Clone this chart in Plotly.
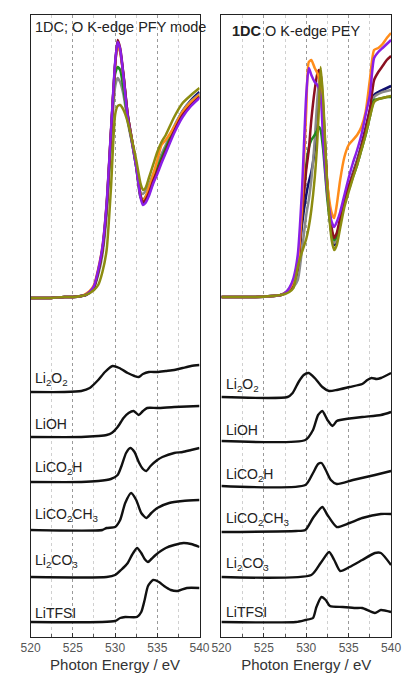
import plotly.graph_objects as go

# ---------------- data (arbitrary intensity units, offsets as plotted) ----------------
E_PFY = [520, 522, 524, 525, 526, 526.5, 527, 527.5, 528, 528.5, 529, 529.5, 530, 530.3, 530.6,
         531, 531.5, 532, 532.5, 533, 533.3, 533.6, 534, 534.5, 535, 535.5, 536, 537, 538, 539, 540]
PFY_maroon = [339, 339, 340, 340, 341, 342, 345, 350, 365, 387, 430, 502, 572, 597, 589,
              562, 522, 497, 472, 442, 435, 437, 444, 456, 466, 476, 486, 506, 522, 532, 540]
PFY_purple = [339, 339, 340, 340, 341, 342, 345, 351, 367, 390, 434, 505, 574, 595, 588,
              560, 520, 495, 470, 440, 432, 434, 441, 453, 463, 474, 484, 504, 520, 531, 539]
PFY_navy = [339, 339, 340, 340, 341, 342, 345, 350, 366, 388, 432, 503, 572, 593, 586,
            561, 522, 497, 472, 442, 434, 436, 443, 455, 466, 477, 488, 509, 526, 537, 545]
PFY_orange = [339, 339, 340, 340, 341, 343, 346, 352, 368, 390, 433, 503, 571, 592, 585,
              560, 521, 497, 472, 442, 436, 440, 449, 462, 477, 492, 497, 510, 525, 535, 542]
PFY_green = [339, 339, 340, 340, 341, 342, 345, 350, 365, 387, 429, 498, 563, 570, 567,
             548, 518, 495, 470, 440, 437, 440, 447, 459, 469, 479, 489, 508, 524, 534, 541]
PFY_gray = [339, 339, 340, 340, 341, 342, 344, 349, 362, 382, 422, 490, 550, 559, 555,
            542, 515, 494, 470, 445, 443, 446, 452, 463, 473, 483, 492, 511, 526, 536, 543]
PFY_olive = [339, 339, 340, 340, 341, 342, 344, 347, 352, 365, 387, 447, 522, 531, 532,
             527, 515, 497, 477, 454, 447, 449, 459, 472, 485, 495, 502, 520, 534, 542, 549]

E_PEY = [520, 522, 524, 526, 527, 527.5, 528, 528.5, 529, 529.5, 530, 530.3, 530.6, 531, 531.3,
         531.5, 531.7, 532, 532.5, 533, 533.3, 533.6, 534, 534.5, 535, 535.5, 536, 536.5, 537,
         537.5, 538, 538.5, 539, 539.5, 540]
PEY_purple = [340, 340, 340, 341, 342, 344, 349, 359, 382, 447, 542, 569, 562, 555, 552,
              549, 542, 497, 442, 415, 410, 415, 425, 442, 459, 474, 487, 502, 522,
              542, 579, 585, 589, 593, 597]
PEY_orange = [340, 340, 340, 341, 342, 344, 348, 356, 372, 432, 527, 575, 577, 569, 564,
              559, 549, 512, 452, 424, 419, 432, 457, 480, 492, 497, 502, 510, 525,
              557, 587, 589, 593, 599, 604]
PEY_maroon = [340, 340, 340, 341, 342, 344, 347, 354, 369, 422, 467, 487, 517, 547, 563,
              567, 562, 522, 452, 409, 399, 404, 419, 437, 450, 462, 475, 490, 507,
              527, 557, 565, 571, 577, 581]
PEY_navy = [340, 340, 340, 341, 342, 344, 347, 353, 367, 412, 442, 455, 465, 487, 515,
            542, 557, 527, 447, 402, 392, 397, 415, 435, 450, 464, 477, 492, 509,
            527, 542, 545, 547, 549, 551]
PEY_green = [340, 340, 340, 341, 342, 344, 348, 356, 375, 422, 472, 489, 497, 502, 507,
             510, 507, 487, 437, 405, 397, 401, 417, 434, 447, 460, 472, 487, 502,
             520, 537, 538, 539, 540, 540]
PEY_gray = [340, 340, 340, 341, 342, 344, 346, 350, 357, 387, 422, 437, 457, 497, 537,
            555, 565, 532, 447, 402, 394, 399, 416, 435, 449, 463, 476, 490, 506,
            524, 540, 543, 545, 546, 547]
PEY_olive = [340, 340, 340, 341, 342, 343, 345, 349, 370, 385, 398, 410, 427, 459, 495,
             530, 570, 537, 447, 397, 387, 392, 409, 430, 445, 459, 472, 487, 502,
             520, 535, 538, 539, 540, 541]

# reference compounds, PFY panel
L_Li2O2_E = [520, 524, 526, 527, 528, 528.8, 529.7, 530.5, 531.5, 532.3, 532.8, 533.3, 534, 535, 536, 537, 537.5, 538, 539, 540]
L_Li2O2_I = [245, 245, 246, 249, 257, 265, 271, 269, 264, 261, 260, 263, 265, 265, 266, 267, 268, 269, 271, 272]
L_LiOH_E = [520, 526, 528, 529, 529.6, 530.3, 531, 531.6, 532.2, 532.8, 533.3, 533.8, 535, 537, 540]
L_LiOH_I = [200, 200, 201, 202, 204, 210, 219, 224, 226, 222, 226, 229, 229, 230, 231]
L_LiCO2H_E = [520, 526, 528, 529.5, 530.3, 530.8, 531.3, 531.8, 532.3, 532.8, 533.3, 533.7, 534.2, 535, 535.6, 537, 538, 539, 540]
L_LiCO2H_I = [155, 155, 156, 158, 162, 172, 184, 189, 185, 175, 168, 166, 171, 177, 180, 184, 185, 187, 189]
L_LiOAc_E = [520, 528.5, 529, 530, 530.6, 531.2, 531.9, 532.5, 533.1, 533.7, 534.3, 535, 536.4, 538, 540]
L_LiOAc_I = [107, 107, 109, 110, 117, 134, 144, 137, 124, 119, 124, 129, 134, 136, 137]
L_Li2CO3_E = [520, 529, 530, 530.7, 531.5, 532, 532.6, 533.1, 533.5, 533.9, 534.3, 534.8, 536, 537, 538.1, 539, 540]
L_Li2CO3_I = [60, 60, 62, 67, 74, 82, 89, 84, 78, 75, 78, 82, 89, 92, 94, 93, 90]
L_LiTFSI_E = [520, 530, 530.6, 531.2, 532.6, 533.1, 533.5, 533.9, 534.5, 535.2, 535.8, 536.6, 537.4, 538.5, 540]
L_LiTFSI_I = [15, 16, 19, 20, 20, 25, 37, 51, 57, 55, 51, 47, 46, 49, 49]

# reference compounds, PEY panel
R_Li2O2_E = [520, 527.8, 528.4, 529.1, 529.7, 530.3, 531, 531.9, 532.7, 533.6, 535.1, 536.6, 537.2, 537.7, 538.3, 538.8, 540]
R_Li2O2_I = [240, 240, 244, 255, 262, 264, 259, 250, 246, 247, 250, 253, 257, 259, 258, 259, 264]
R_LiOH_E = [520, 529.9, 530.8, 531.4, 531.9, 532.5, 533.1, 533.6, 534, 536.6, 538.8, 540]
R_LiOH_I = [196, 197, 207, 222, 226, 217, 211, 216, 217, 220, 222, 225]
R_LiCO2H_E = [520, 529.9, 530.8, 531.4, 531.8, 532.3, 532.9, 533.6, 535.5, 538.1, 540]
R_LiCO2H_I = [151, 152, 164, 173, 174, 167, 157, 153, 157, 162, 166]
R_LiOAc_E = [520, 528.8, 529.9, 530.8, 531.9, 532.5, 533.6, 535.1, 536.6, 538.8, 540]
R_LiOAc_I = [105, 106, 107, 119, 130, 122, 110, 114, 119, 123, 123]
R_Li2CO3_E = [520, 530.6, 531.7, 532.7, 533.3, 534, 535.1, 536.6, 538.1, 538.8, 540]
R_Li2CO3_I = [60, 62, 74, 85, 77, 66, 70, 77, 84, 84, 72]
R_LiTFSI_E = [520, 528.8, 529.9, 530.8, 531.2, 531.8, 532.3, 532.8, 534.3, 535.8, 536.6, 538.1, 538.8, 540]
R_LiTFSI_I = [15, 15, 17, 19, 30, 40, 37, 31, 30, 29, 29, 24, 27, 25]

ref_names = ["Li<sub>2</sub>O<sub>2</sub>", "LiOH", "LiCO<sub>2</sub>H",
             "LiCO<sub>2</sub>CH<sub>3</sub>", "Li<sub>2</sub>CO<sub>3</sub>", "LiTFSI"]
ref_label_y_L = [258, 213, 169, 122, 76, 24]
ref_label_y_R = [252, 207, 162, 118, 73, 25]

x_ticks = [520, 525, 530, 535, 540]

# ---------------- figure ----------------
colors = {"navy": "#10106e", "gray": "#8a8a8a", "green": "#1f8a1f", "orange": "#ff8c1a",
          "maroon": "#8b1020", "purple": "#8a1ee6", "olive": "#8c8c10"}

fig = go.Figure()
LW = 2.5


def add(x, y, color, xa, ya, w=LW):
    fig.add_trace(go.Scatter(x=x, y=y, mode="lines", xaxis=xa, yaxis=ya,
                             line=dict(color=color, width=w, shape="spline", smoothing=0.6),
                             showlegend=False, hoverinfo="skip"))


pfy = [("navy", PFY_navy), ("gray", PFY_gray), ("green", PFY_green), ("orange", PFY_orange),
       ("maroon", PFY_maroon), ("purple", PFY_purple), ("olive", PFY_olive)]
for c, s in pfy:
    add(E_PFY, s, colors[c], "x", "y")
pey = [("navy", PEY_navy), ("gray", PEY_gray), ("green", PEY_green), ("maroon", PEY_maroon),
       ("orange", PEY_orange), ("purple", PEY_purple), ("olive", PEY_olive)]
for c, s in pey:
    add(E_PEY, s, colors[c], "x2", "y2")

for xe, yi in [(L_Li2O2_E, L_Li2O2_I), (L_LiOH_E, L_LiOH_I), (L_LiCO2H_E, L_LiCO2H_I),
               (L_LiOAc_E, L_LiOAc_I), (L_Li2CO3_E, L_Li2CO3_I), (L_LiTFSI_E, L_LiTFSI_I)]:
    add(xe, yi, "#111111", "x", "y", 2.4)
for xe, yi in [(R_Li2O2_E, R_Li2O2_I), (R_LiOH_E, R_LiOH_I), (R_LiCO2H_E, R_LiCO2H_I),
               (R_LiOAc_E, R_LiOAc_I), (R_Li2CO3_E, R_Li2CO3_I), (R_LiTFSI_E, R_LiTFSI_I)]:
    add(xe, yi, "#111111", "x2", "y2", 2.4)

W, H = 408, 682
ydom = [1 - 637 / H, 1 - 15 / H]
FONT = "Liberation Sans, Arial, sans-serif"

xcommon = dict(range=[520, 540], tickvals=x_ticks, ticks="inside", ticklen=4, tickcolor="#333",
               showline=True, mirror=True, linecolor="#222", linewidth=1,
               showgrid=True, gridcolor="#9a9a9a", griddash="dot", gridwidth=1,
               minor=dict(dtick=2.5, ticks="inside", ticklen=3, tickcolor="#555",
                          showgrid=True, gridcolor="#d0d0d0", griddash="dot", gridwidth=1),
               tickfont=dict(size=12, color="#555", family=FONT),
               title=dict(text="Photon Energy / eV", font=dict(size=15, color="#333", family=FONT),
                          standoff=5),
               zeroline=False, fixedrange=True)
ycommon = dict(range=[0, 622], domain=ydom, showticklabels=False, ticks="", showgrid=False,
               zeroline=False, showline=True, mirror=True, linecolor="#222", linewidth=1)

fig.update_layout(
    width=W, height=H, margin=dict(l=0, r=0, t=0, b=0),
    paper_bgcolor="white", plot_bgcolor="white",
    font=dict(family=FONT, color="#222"),
    xaxis=dict(domain=[21.7 / W, 199.3 / W], anchor="y", **xcommon),
    xaxis2=dict(domain=[222.3 / W, 400.7 / W], anchor="y2", **xcommon),
    yaxis=dict(anchor="x", **ycommon),
    yaxis2=dict(anchor="x2", **ycommon),
)

fig.add_annotation(text="1DC; O K-edge PFY mode", xref="paper", yref="paper",
                    x=24 / W, y=1 - 27 / H, xanchor="left", yanchor="middle", showarrow=False,
                    font=dict(size=14.5, color="#222", family=FONT))
fig.add_annotation(text="<b>1DC</b> O K-edge PEY", xref="paper", yref="paper",
                    x=231 / W, y=1 - 31 / H, xanchor="left", yanchor="middle", showarrow=False,
                    font=dict(size=14.5, color="#222", family=FONT))

for name, yl in zip(ref_names, ref_label_y_L):
    fig.add_annotation(text=name, xref="paper", yref="y", x=24 / W, y=yl, xanchor="left",
                        yanchor="middle", showarrow=False, font=dict(size=14, color="#222", family=FONT))
for name, yl in zip(ref_names, ref_label_y_R):
    fig.add_annotation(text=name, xref="paper", yref="y2", x=225 / W, y=yl, xanchor="left",
                        yanchor="middle", showarrow=False, font=dict(size=14, color="#222", family=FONT))

fig.write_html("out.html", config={"displayModeBar": False},
               post_script="document.body.style.margin='0px';"
                           "document.body.style.overflow='hidden';"
                           "document.documentElement.style.overflow='hidden';")
